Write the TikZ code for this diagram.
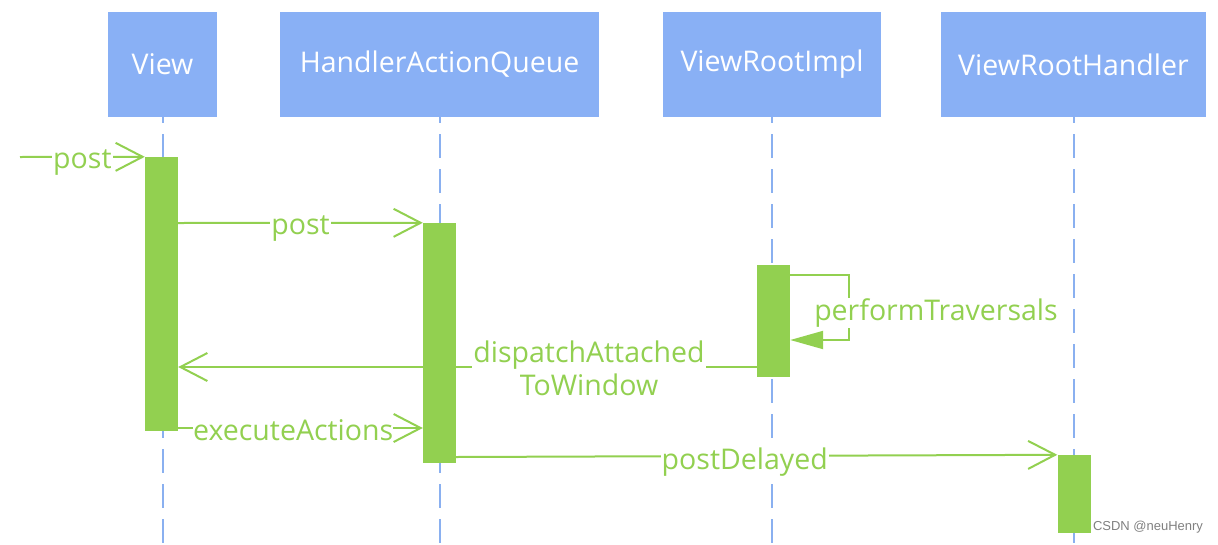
\documentclass[tikz,border=0pt]{standalone}
\usepackage{fontspec}
\setmainfont{Open Sans}
\newfontfamily\markfont{Liberation Sans}
\usetikzlibrary{arrows.meta,positioning}

\definecolor{boxblue}{RGB}{137,176,245}
\definecolor{lineblue}{RGB}{138,176,240}
\definecolor{msggreen}{RGB}{146,208,80}

\begin{document}
\begin{tikzpicture}[x=1pt,y=-1pt,
    obj/.style={fill=boxblue, text=white, font=\fontsize{28.5}{33}\selectfont, minimum height=105pt, inner sep=0pt},
    life/.style={draw=lineblue, line width=2pt, dash pattern=on 24pt off 11pt, dash phase=18pt},
    act/.style={fill=msggreen, inner sep=0pt, minimum width=33pt},
    msg/.style={draw=msggreen, line width=2pt, -{Straight Barb[length=27pt,width=28pt,line width=2pt]}},
    lbl/.style={fill=white, text=msggreen, font=\fontsize{28.5}{33}\selectfont, inner xsep=1pt, inner ysep=1pt, align=center, yshift=-6pt}]

    \useasboundingbox (0,0) rectangle (1218,544);

    % objects
    \node[obj, minimum width=109pt] (view) at (162.5,64.5) {View};
    \node[obj, minimum width=319pt] (haq)  at (439.5,64.5) {HandlerActionQueue};
    \node[obj, minimum width=218pt] (vri)  at (772,64.5)   {ViewRootImpl};
    \node[obj, minimum width=265pt] (vrh)  at (1073.5,64.5) {ViewRootHandler};

    % lifelines
    \draw[life] (view.south) -- (view.south |- 0,544);
    \draw[life] (haq.south)  -- (haq.south |- 0,544);
    \draw[life] (vri.south)  -- (vri.south |- 0,544);
    \draw[life] (vrh.south)  -- (vrh.south |- 0,544);

    % activations
    \node[act, minimum height=274pt] (aview) at (161.5,294) {};
    \node[act, minimum height=240pt] (ahaq)  at (439.5,343) {};
    \node[act, minimum height=112pt] (avri)  at (773.5,321) {};
    \node[act, minimum height=78pt]  (avrh)  at (1074,494)  {};

    % messages
    \coordinate (start) at (20,157);
    \draw[msg] (start) -- (aview.north west) node[lbl, midway] {post};
    \draw[msg] (aview.east |- 0,223) -- (ahaq.north west) node[lbl, midway] {post};
    \draw[draw=msggreen, line width=2pt, -{Triangle[length=33pt,width=18pt]}]
        (avri.east |- 0,275) -- ++(59,0) -- ++(0,65) -- (avri.east |- 0,340);
    \node[lbl] (trav) at (936,307) {performTraversals};
    \draw[msg] (avri.west |- 0,367) -- (aview.east |- 0,367)
        node[lbl, pos=0.29, yshift=5pt] {dispatchAttached\\ToWindow};
    \draw[msg] (aview.east |- 0,428) -- (ahaq.west |- 0,428)
        node[lbl, pos=0.47, inner xsep=0pt, yshift=4pt] {executeActions};
    \draw[msg] (ahaq.east |- 0,457) -- (avrh.north west) node[lbl, pos=0.48] {postDelayed};

    \node[text=gray, font=\markfont\fontsize{13}{15}\selectfont, inner sep=0pt] (mark) at (1148,527) {CSDN @neuHenry};
\end{tikzpicture}
\end{document}
